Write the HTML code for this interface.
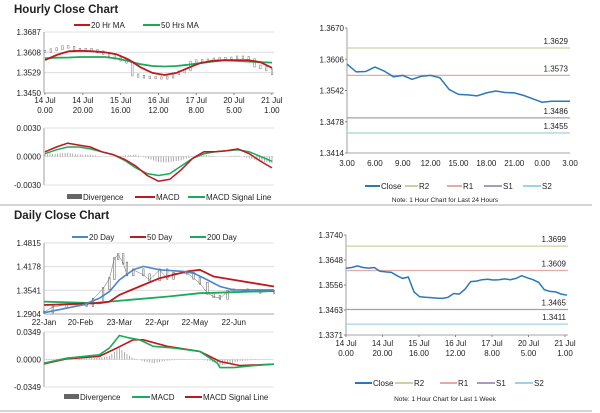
<!DOCTYPE html>
<html><head><meta charset="utf-8"><style>
html,body{margin:0;padding:0;background:#fff;}
svg{display:block;font-family:"Liberation Sans",sans-serif;}
</style></head><body>
<svg id="s" width="600" height="413" viewBox="0 0 600 413"></svg>
<script>
// ===== DATA =====
const hourlyClose=[1.3612,1.3618,1.3622,1.3630,1.3628,1.3620,1.3618,1.3620,1.3615,1.3610,1.3604,1.3596,1.3585,1.3578,1.3570,1.3520,1.3515,1.3512,1.3510,1.3509,1.3508,1.3512,1.3525,1.3532,1.3540,1.3570,1.3575,1.3577,1.3578,1.3582,1.3584,1.3585,1.3586,1.3590,1.3588,1.3580,1.3555,1.3548,1.3540,1.3525];
const hourlyMA20=[1.3578,1.3598,1.3612,1.3614,1.3612,1.3608,1.3600,1.3580,1.3550,1.3528,1.3520,1.3528,1.3548,1.3566,1.3575,1.3578,1.3578,1.3578,1.3570,1.3548];
const hourlyMA50=[1.3585,1.3587,1.3588,1.3590,1.3590,1.3590,1.3584,1.3574,1.3562,1.3555,1.3553,1.3555,1.3560,1.3566,1.3572,1.3577,1.3575,1.3572,1.3570,1.3568];
const hourlyMACD=[0.0005,0.0010,0.0014,0.0012,0.0010,0.0005,0.0002,-0.0003,-0.0010,-0.0020,-0.0026,-0.0024,-0.0014,-0.0002,0.0005,0.0005,0.0006,0.0008,0.0003,-0.0005,-0.0012];
const hourlySignal=[0.0003,0.0007,0.0010,0.0010,0.0008,0.0005,0.0002,-0.0004,-0.0012,-0.0018,-0.0020,-0.0018,-0.0010,-0.0002,0.0003,0.0005,0.0006,0.0007,0.0005,0.0000,-0.0005];
const hourlyTicks=["1.3687","1.3608","1.3529","1.3450"];
const hourlyXLabels=[["14 Jul","0.00"],["14 Jul","20.00"],["15 Jul","16.00"],["16 Jul","12.00"],["17 Jul","8.00"],["20 Jul","5.00"],["21 Jul","1.00"]];
const dayClose=[1.3596,1.3580,1.3581,1.3590,1.3582,1.3570,1.3573,1.3565,1.3571,1.3573,1.3568,1.3544,1.3534,1.3533,1.3531,1.3537,1.3541,1.3538,1.3537,1.3532,1.3525,1.3518,1.3520,1.3520,1.3520];
const dayLevels=[1.3629,1.3573,1.3486,1.3455];
const dayTicks=["1.3670","1.3606","1.3542","1.3478","1.3414"];
const dayXLabels=["3.00","6.00","9.00","12.00","15.00","18.00","21.00","0.00","3.00"];
const dailyDays=[0,7,18,34,39,47,52,56,59,63,66,71,79,84,92,98,103,114,119,124,130,135,140,146,151,162,172,183];
const dailyClose=[1.2957,1.3092,1.3155,1.3137,1.3300,1.3588,1.3858,1.4400,1.4500,1.4274,1.3958,1.4093,1.3958,1.3823,1.4093,1.3868,1.4003,1.4003,1.3868,1.3733,1.3463,1.3373,1.3328,1.3508,1.3553,1.3526,1.3490,1.3508];
const ma20Days=[0,31,44,52,60,71,79,92,111,119,130,140,151,167,183];
const ma20Vals=[1.2940,1.3150,1.3327,1.3508,1.3823,1.4094,1.4184,1.4094,1.4050,1.4003,1.3823,1.3643,1.3553,1.3553,1.3553];
const ma50Days=[0,39,52,60,76,92,114,124,135,151,167,183];
const ma50Vals=[1.3147,1.3192,1.3237,1.3418,1.3643,1.3868,1.4050,1.4094,1.3913,1.3823,1.3733,1.3643];
const ma200Days=[0,44,52,98,124,151,183];
const ma200Vals=[1.3237,1.3192,1.3237,1.3372,1.3463,1.3490,1.3526];
const dmacdDays=[0,18,44,52,60,66,76,87,103,124,138,140,151,167,183];
const dmacdVals=[-0.0047,0.0017,0.0060,0.0146,0.0304,0.0280,0.0250,0.0167,0.0146,0.0103,-0.0047,-0.0103,-0.0103,-0.0077,-0.0060];
const dsigDays=[0,18,44,58,71,79,98,124,140,156,183];
const dsigVals=[-0.0056,0.0009,0.0039,0.0146,0.0250,0.0250,0.0167,0.0103,-0.0026,-0.0077,-0.0060];
const dailyTicks=["1.4815","1.4178","1.3541","1.2904"];
const dailyXLabels=[["22-Jan",0],["20-Feb",29],["23-Mar",60],["22-Apr",90],["22-May",120],["22-Jun",151]];
const weekClose=[1.3617,1.3620,1.3626,1.3620,1.3618,1.3620,1.3606,1.3604,1.3602,1.3590,1.3580,1.3585,1.3530,1.3512,1.3510,1.3509,1.3507,1.3506,1.3510,1.3524,1.3522,1.3540,1.3568,1.3570,1.3575,1.3577,1.3574,1.3575,1.3578,1.3575,1.3580,1.3590,1.3582,1.3575,1.3565,1.3538,1.3532,1.3530,1.3522,1.3518];
const weekLevels=[1.3699,1.3609,1.3465,1.3411];
const weekTicks=["1.3740","1.3648","1.3556","1.3463","1.3371"];
const levelNames=["R2","R1","S1","S2"];
const levelColors=["#cfcfa6","#e2aaa8","#a79cbd","#9fd0e4"];

// ===== DRAW =====
const S=document.getElementById('s');const NS="http://www.w3.org/2000/svg";
function mk(t,a,parent){const e=document.createElementNS(NS,t);for(const k in a)e.setAttribute(k,a[k]);(parent||S).appendChild(e);return e;}
function txt(x,y,s,o){o=o||{};const e=mk('text',{x:x,y:y,'font-size':o.fs||8,fill:o.fill||'#222','text-anchor':o.anchor||'start','font-weight':o.fw||'normal'});e.textContent=s;return e;}
function lin(sx,sy,xs,ys){return xs.map((x,i)=>(i?'L':'M')+sx(x).toFixed(1)+','+sy(ys[i]).toFixed(1)).join('');}
function interp(xs,ys,x){if(x<=xs[0])return ys[0];for(let i=1;i<xs.length;i++){if(x<=xs[i]){const t=(x-xs[i-1])/(xs[i]-xs[i-1]);return ys[i-1]+t*(ys[i]-ys[i-1]);}}return ys[ys.length-1];}
function idx(n){return Array.from({length:n},(_,i)=>i);}
function axesBox(x0,x1,y0,y1,grids,sy){
  grids.forEach(g=>{mk('line',{x1:x0,x2:x1,y1:sy(g),y2:sy(g),stroke:'#d9d9d9','stroke-width':0.8});});
  mk('line',{x1:x0,x2:x0,y1:y0,y2:y1,stroke:'#888','stroke-width':0.8});
  mk('line',{x1:x0,x2:x1,y1:y1,y2:y1,stroke:'#888','stroke-width':0.8});
}
function legLine(x,y,w,c,label,name){const g=mk('g',{});
  mk('line',{x1:x,x2:x+w,y1:y-3,y2:y-3,stroke:c,'stroke-width':2},g);const t=txt(x+w+1,y,label);g.appendChild(t);}
function legBlock(x,y,label,name){const g=mk('g',{});
  mk('rect',{x:x,y:y-6,width:15,height:5,fill:'#666'},g);const t=txt(x+16,y,label);g.appendChild(t);}

mk('line',{x1:0,x2:592,y1:205,y2:205,stroke:'#bbb','stroke-width':1.2});
mk('line',{x1:0,x2:592,y1:411,y2:411,stroke:'#bbb','stroke-width':1.2});

// ---------- Hourly ----------
{const t=txt(14,13,"Hourly Close Chart",{fs:11.5,fw:'bold'});
legLine(74,28,16,'#c0181e',"20 Hr MA",'legend-20hr-ma');
legLine(143,28,17,'#1aab5a',"50 Hrs MA",'legend-50hrs-ma');
const x0=44,x1=274,y0=32,y1=93,ymax=1.3687,ymin=1.3450;
const sy=v=>y0+(ymax-v)/(ymax-ymin)*(y1-y0);
axesBox(x0,x1,y0,y1,[1.3687,1.3608,1.3529],sy);
hourlyTicks.forEach((t,i)=>txt(x0-3,y0+i*(y1-y0)/3+3,t,{anchor:'end'}));
hourlyXLabels.forEach((l,i)=>{const x=x0+1+i*37.8;txt(x,103,l[0],{anchor:'middle'});txt(x,113,l[1],{anchor:'middle'});mk('line',{x1:x,x2:x,y1:y1,y2:y1+2,stroke:'#888'});});
const n=hourlyClose.length;const sx=i=>x0+1+i*(x1-x0-3)/(n-1);
const gC=mk('g',{});
hourlyClose.forEach((v,i)=>{const p=i?hourlyClose[i-1]:v;const a=Math.min(sy(v),sy(p))-1,b=Math.max(sy(v),sy(p))+1;
  const r=mk('rect',{x:sx(i)-0.8,y:a,width:1.6,height:b-a,fill:'#fff',stroke:'#777','stroke-width':0.5},gC);});
const m=hourlyMA20.length;const sxm=i=>x0+1+i*(x1-x0-3)/(m-1);
const p1=mk('path',{d:lin(sxm,sy,idx(m),hourlyMA50),fill:'none',stroke:'#1aab5a','stroke-width':1.8});
const p2=mk('path',{d:lin(sxm,sy,idx(m),hourlyMA20),fill:'none',stroke:'#c0181e','stroke-width':1.8});
const my0=128,my1=185,mmax=0.003;const msy=v=>my0+(mmax-v)/(2*mmax)*(my1-my0);
mk('line',{x1:x0,x2:x0,y1:my0,y2:my1,stroke:'#888','stroke-width':0.8});
[0.003,0,-0.003].forEach(g=>mk('line',{x1:x0,x2:x1,y1:msy(g),y2:msy(g),stroke:'#d9d9d9','stroke-width':0.8}));
["0.0030","0.0000","-0.0030"].forEach((t,i)=>txt(x0-3,my0+i*(my1-my0)/2+3,t,{anchor:'end'}));
const k=hourlyMACD.length;const sxk=i=>x0+1+i*(x1-x0-3)/(k-1);
const gH=mk('g',{});
for(let j=0;j<=90;j++){const f=j/90*(k-1);const d=interp(idx(k),hourlyMACD,f)-interp(idx(k),hourlySignal,f);
  const b=mk('line',{x1:sxk(f),x2:sxk(f),y1:msy(0),y2:msy(d),stroke:'#999','stroke-width':0.8},gH);}
const q1=mk('path',{d:lin(sxk,msy,idx(k),hourlySignal),fill:'none',stroke:'#1aab5a','stroke-width':1.5});
const q2=mk('path',{d:lin(sxk,msy,idx(k),hourlyMACD),fill:'none',stroke:'#c0181e','stroke-width':1.5});
legBlock(67,200,"Divergence",'legend-divergence');
legLine(135,200,20,'#c0181e',"MACD",'legend-macd');
legLine(188,200,17,'#1aab5a',"MACD Signal Line",'legend-macd-signal');}

function levelChart(o){
  const {x0,x1,y0,y1,ymax,ymin,ticks,levels,close}=o;
  const sy=v=>y0+(ymax-v)/(ymax-ymin)*(y1-y0);
  mk('line',{x1:x0,x2:x0,y1:y0,y2:y1,stroke:'#888','stroke-width':0.8});
  mk('line',{x1:x0,x2:x1,y1:y1,y2:y1,stroke:'#888','stroke-width':0.8});
  ticks.forEach((t,i)=>{const y=y0+i*(y1-y0)/(ticks.length-1);txt(x0-3,y+3,t,{anchor:'end'});mk('line',{x1:x0-2,x2:x0,y1:y,y2:y,stroke:'#888'});});
  levels.forEach((v,i)=>{const l=mk('line',{x1:x0,x2:x1,y1:sy(v),y2:sy(v),stroke:levelColors[i],'stroke-width':1.3});
    txt(x1-2,sy(v)-4,v.toFixed(4),{anchor:'end'});});
  const n=close.length;const sx=i=>x0+i*(o.xend-x0)/(n-1);
  const p=mk('path',{d:lin(sx,sy,idx(n),close),fill:'none',stroke:'#2a78b8','stroke-width':1.5});
  return sy;
}
{levelChart({x0:347,x1:570,xend:570,y0:28,y1:153,ymax:1.3670,ymin:1.3414,ticks:dayTicks,levels:dayLevels,close:dayClose,name:'day'});
dayXLabels.forEach((l,i)=>txt(347+i*223/8,166,l,{anchor:'middle'}));
legLine(365,189,15,'#2a78b8',"Close",'legend-close');
legLine(405,189,13,levelColors[0],"R2",'legend-r2');
legLine(447,189,15,levelColors[1],"R1",'legend-r1');
legLine(484,189,18,levelColors[2],"S1",'legend-s1');
legLine(523,189,18,levelColors[3],"S2",'legend-s2');
txt(445,202,"Note: 1 Hour Chart for Last 24 Hours",{anchor:'middle',fs:6.5});}

{const t=txt(14,219,"Daily Close Chart",{fs:11.5,fw:'bold'});
legLine(72,240,16,'#4a86c8',"20 Day",'legend-20-day');
legLine(130,240,16,'#c0181e',"50 Day",'legend-50-day');
legLine(190,240,16,'#1aab5a',"200 Day",'legend-200-day');
const x0=44,x1=274,y0=243,y1=314,ymax=1.4815,ymin=1.2904;const dmax=183;
const sy=v=>y0+(ymax-v)/(ymax-ymin)*(y1-y0);const sx=d=>x0+d/dmax*(x1-x0);
axesBox(x0,x1,y0,y1,[1.4815,1.4178,1.3541],sy);
dailyTicks.forEach((t,i)=>txt(x0-3,y0+i*(y1-y0)/3+3,t,{anchor:'end'}));
dailyXLabels.forEach(l=>txt(sx(l[1]),325,l[0],{anchor:'middle'}));
const gC=mk('g',{});
dailyClose.forEach((v,i)=>{const p=i?dailyClose[i-1]:v;const a=Math.min(sy(v),sy(p))-1,b=Math.max(sy(v),sy(p))+1;
  const r=mk('rect',{x:sx(dailyDays[i])-0.8,y:a,width:1.6,height:b-a,fill:'#fff',stroke:'#555','stroke-width':0.5},gC);});
const p0=mk('path',{d:lin(sx,sy,dailyDays,dailyClose),fill:'none',stroke:'#666','stroke-width':0.5});
const a=mk('path',{d:lin(sx,sy,ma200Days,ma200Vals),fill:'none',stroke:'#1aab5a','stroke-width':1.8});
const b=mk('path',{d:lin(sx,sy,ma50Days,ma50Vals),fill:'none',stroke:'#c0181e','stroke-width':1.8});
const c=mk('path',{d:lin(sx,sy,ma20Days,ma20Vals),fill:'none',stroke:'#4a86c8','stroke-width':1.6});
const my0=332,my1=387,mmax=0.0349;const msy=v=>my0+(mmax-v)/(2*mmax)*(my1-my0);
mk('line',{x1:x0,x2:x0,y1:my0,y2:my1,stroke:'#888','stroke-width':0.8});
[mmax,0,-mmax].forEach(g=>mk('line',{x1:x0,x2:x1,y1:msy(g),y2:msy(g),stroke:'#d9d9d9','stroke-width':0.8}));
["0.0349","0.0000","-0.0349"].forEach((t,i)=>txt(x0-3,my0+i*(my1-my0)/2+3,t,{anchor:'end'}));
const gH=mk('g',{});
for(let d=0;d<=dmax;d+=2){const v=interp(dmacdDays,dmacdVals,d)-interp(dsigDays,dsigVals,d);
  const r=mk('line',{x1:sx(d),x2:sx(d),y1:msy(0),y2:msy(v),stroke:'#999','stroke-width':0.8},gH);}
const e=mk('path',{d:lin(sx,msy,dsigDays,dsigVals),fill:'none',stroke:'#c0181e','stroke-width':1.6});
const f=mk('path',{d:lin(sx,msy,dmacdDays,dmacdVals),fill:'none',stroke:'#1aab5a','stroke-width':1.6});
legBlock(64,400,"Divergence",'legend-daily-divergence');
legLine(132,400,18,'#1aab5a',"MACD",'legend-daily-macd');
legLine(185,400,17,'#c0181e',"MACD Signal Line",'legend-daily-macd-signal');}

{levelChart({x0:346,x1:568,xend:567,y0:235,y1:335,ymax:1.3740,ymin:1.3371,ticks:weekTicks,levels:weekLevels,close:weekClose,name:'week'});
hourlyXLabels.forEach((l,i)=>{const x=346+i*36.5;txt(x,346,l[0],{anchor:'middle'});txt(x,356,l[1],{anchor:'middle'});mk('line',{x1:x,x2:x,y1:335,y2:337,stroke:'#888'});});
legLine(355,386,17,'#2a78b8',"Close",'legend-week-close');
legLine(395,386,18,levelColors[0],"R2",'legend-week-r2');
legLine(440,386,17,levelColors[1],"R1",'legend-week-r1');
legLine(477,386,18,levelColors[2],"S1",'legend-week-s1');
legLine(515,386,18,levelColors[3],"S2",'legend-week-s2');
txt(445,401,"Note: 1 Hour Chart for  Last 1 Week",{anchor:'middle',fs:6.5});}
</script>
</body></html>
